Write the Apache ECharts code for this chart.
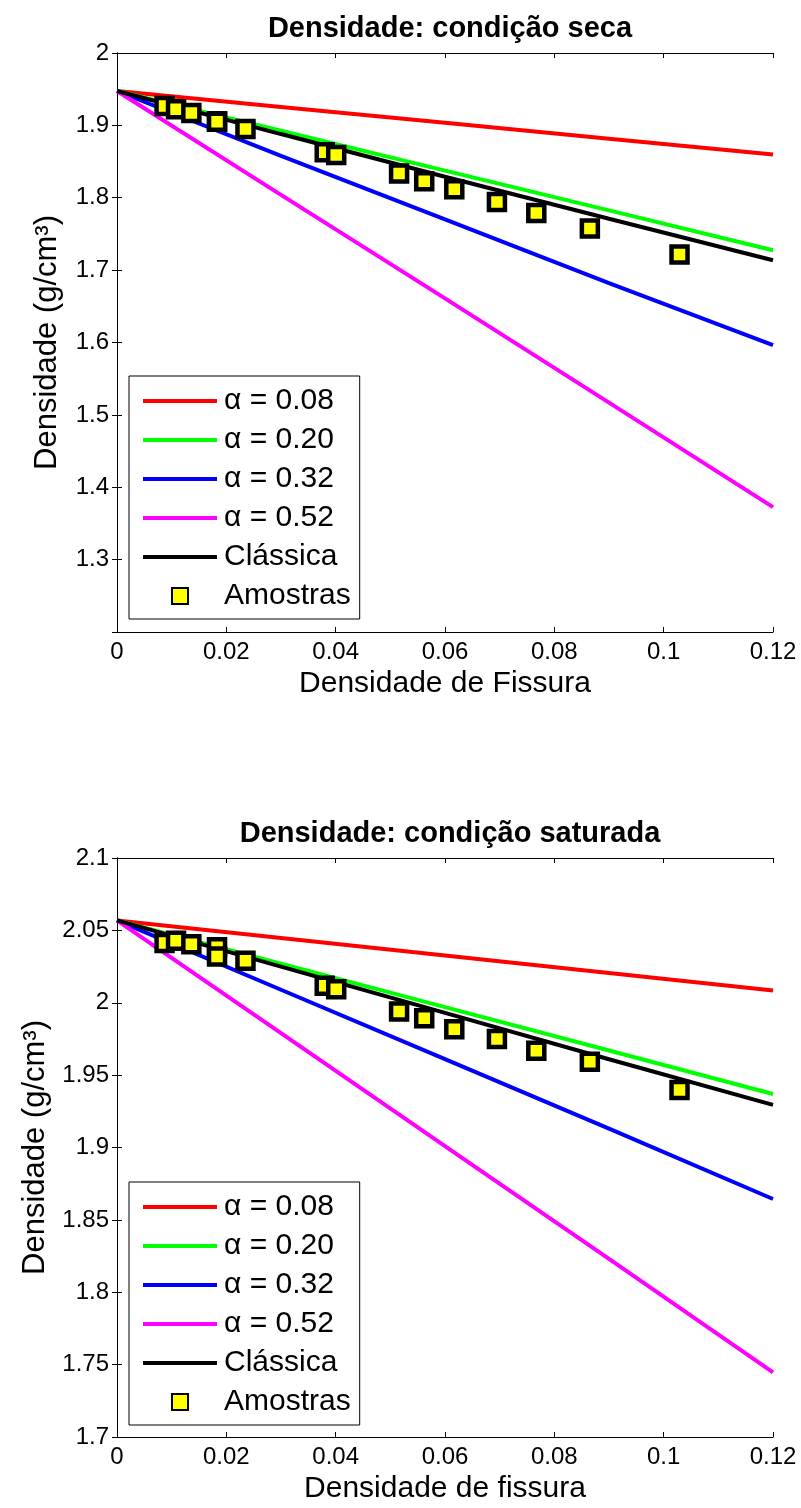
<!DOCTYPE html>
<html>
<head>
<meta charset="utf-8">
<script src="https://cdn.jsdelivr.net/npm/echarts@6/dist/echarts.min.js"></script>
<style>
  html, body { margin: 0; padding: 0; background: #fff; }
  #chart { width: 801px; height: 1508px; }
</style>
</head>
<body>
<div id="chart"></div>
<script>
  // crack density where model curves were read
  const crackX = [0, 0.03, 0.06, 0.09, 0.12];

  // dry condition
  const secaA008 = [1.9475, 1.9255, 1.9035, 1.8815, 1.8597];
  const secaA020 = [1.9475, 1.8925, 1.8375, 1.7825, 1.7275];
  const secaA032 = [1.9475, 1.8580, 1.7700, 1.6820, 1.5963];
  const secaA052 = [1.9475, 1.8040, 1.6610, 1.5170, 1.3725];
  const secaClassica = [1.9475, 1.8880, 1.8290, 1.7710, 1.7137];

  // saturated condition
  const satA008 = [2.0569, 2.0448, 2.0327, 2.0205, 2.0084];
  const satA020 = [2.0569, 2.0270, 1.9970, 1.9670, 1.9370];
  const satA032 = [2.0569, 2.0090, 1.9610, 1.9130, 1.8644];
  const satA052 = [2.0569, 1.9790, 1.9010, 1.8230, 1.7447];
  const satClassica = [2.0569, 2.0250, 1.9930, 1.9610, 1.9294];

  // samples
  const amostrasX = [0.0087, 0.0108, 0.0136, 0.0183, 0.0183, 0.0235, 0.0380, 0.0401, 0.0516, 0.0562, 0.0617, 0.0695, 0.0767, 0.0865, 0.1029];
  const amostrasSeca = [1.9268, 1.9222, 1.9171, 1.9057, 1.9050, 1.8950, 1.8628, 1.8591, 1.8334, 1.8228, 1.8117, 1.7942, 1.7790, 1.7575, 1.7215];
  const amostrasSat = [2.0412, 2.0428, 2.0405, 2.0384, 2.0320, 2.0290, 2.0117, 2.0094, 1.9939, 1.9893, 1.9817, 1.9750, 1.9669, 1.9593, 1.9398];

  const seriesNames = ['α = 0.08', 'α = 0.20', 'α = 0.32', 'α = 0.52', 'Clássica', 'Amostras'];
  const lineColors = ['#ff0000', '#00ff00', '#0000ff', '#ff00ff', '#000000'];

  const xRange = [0, 0.12, 0.02];
  const ySecaRange = [1.2, 2, 0.1];
  const ySatRange = [1.7, 2.1, 0.05];

  const titles = ['Densidade: condição seca', 'Densidade: condição saturada'];
  const xNames = ['Densidade de Fissura', 'Densidade de fissura'];
  const yName = 'Densidade (g/cm³)';

  const font = '"Liberation Sans", Arial, sans-serif';
  const gridTops = [53, 858];
  const plotH = 579;

  const chart = echarts.init(document.getElementById('chart'));

  function mainX(gi) {
    return {
      type: 'value', gridIndex: gi, position: 'bottom',
      min: xRange[0], max: xRange[1], interval: xRange[2],
      name: xNames[gi], nameLocation: 'middle', nameGap: 37,
      nameTextStyle: { fontSize: 30, color: '#000', fontFamily: font },
      axisLine: { lineStyle: { color: '#000', width: 1 } },
      axisTick: { inside: true, length: 5, lineStyle: { color: '#000' } },
      axisLabel: { fontSize: 24, color: '#000', fontFamily: font, margin: 8 },
      splitLine: { show: false }
    };
  }
  function topX(gi) {
    return {
      type: 'value', gridIndex: gi, position: 'top',
      min: xRange[0], max: xRange[1], interval: xRange[2],
      axisLine: { lineStyle: { color: '#000', width: 1 } },
      axisTick: { inside: true, length: 5, lineStyle: { color: '#000' } },
      axisLabel: { show: false },
      splitLine: { show: false }
    };
  }
  function mainY(gi, r, hideMin) {
    return {
      type: 'value', gridIndex: gi, position: 'left',
      min: r[0], max: r[1], interval: r[2],
      name: yName, nameLocation: 'middle', nameGap: 54,
      nameTextStyle: { fontSize: 31, color: '#000', fontFamily: font },
      axisLine: { show: true, lineStyle: { color: '#000', width: 1 } },
      axisTick: { show: true, inside: true, length: 5, lineStyle: { color: '#000' } },
      axisLabel: { fontSize: 24, color: '#000', fontFamily: font, margin: 8, showMinLabel: !hideMin },
      splitLine: { show: false }
    };
  }
  function rightY(gi, r) {
    return {
      type: 'value', gridIndex: gi, position: 'right',
      min: r[0], max: r[1], interval: r[2],
      axisLine: { show: true, lineStyle: { color: '#000', width: 1 } },
      axisTick: { show: true, inside: true, length: 5, lineStyle: { color: '#000' } },
      axisLabel: { show: false },
      splitLine: { show: false }
    };
  }

  function buildSeries(gi, curves, samplesY) {
    const out = curves.map((c, i) => ({
      name: seriesNames[i],
      type: 'line',
      xAxisIndex: gi * 2, yAxisIndex: gi * 2,
      data: crackX.map((x, k) => [x, c[k]]),
      symbol: 'none',
      lineStyle: { color: lineColors[i], width: 4 },
      itemStyle: { color: lineColors[i] },
      z: 2 + i,
      silent: true
    }));
    out.push({
      name: seriesNames[5],
      type: 'scatter',
      xAxisIndex: gi * 2, yAxisIndex: gi * 2,
      data: amostrasX.map((x, k) => [x, samplesY[k]]),
      symbol: 'rect',
      symbolSize: 16,
      itemStyle: { color: '#ffff00', borderColor: '#000', borderWidth: 4.5, opacity: 1 },
      z: 10
    });
    return out;
  }

  function buildLegend(gi) {
    return {
      orient: 'vertical',
      left: 129,
      top: gi === 0 ? 376 : 1182,
      data: seriesNames.map(n => n === 'Amostras'
        ? { name: n, icon: 'path://M0 0H10V10H0Z' }
        : { name: n, icon: 'path://M0 0H74V4H0Z' }),
      itemWidth: 74,
      itemHeight: 16,
      itemGap: 9,
      padding: [10, 9, 8, 14],
      borderColor: '#000',
      borderWidth: 1,
      backgroundColor: '#fff',
      selectedMode: false,
      textStyle: { fontSize: 30, lineHeight: 30, color: '#000', fontFamily: font, padding: [0, 0, 0, 2] }
    };
  }

  const option = {
    backgroundColor: '#fff',
    animation: false,
    title: titles.map((t, gi) => ({
      text: t,
      left: 445,
      textAlign: 'center',
      top: gi === 0 ? 9 : 814,
      textStyle: { fontSize: 29, fontWeight: 'bold', color: '#000', fontFamily: font }
    })),
    grid: gridTops.map(t => ({ left: 117, top: t, width: 656, height: plotH, containLabel: false })),
    xAxis: [mainX(0), topX(0), mainX(1), topX(1)],
    yAxis: [mainY(0, ySecaRange, true), rightY(0, ySecaRange), mainY(1, ySatRange, false), rightY(1, ySatRange)],
    legend: [buildLegend(0), buildLegend(1)],
    series: [
      ...buildSeries(0, [secaA008, secaA020, secaA032, secaA052, secaClassica], amostrasSeca),
      ...buildSeries(1, [satA008, satA020, satA032, satA052, satClassica], amostrasSat)
    ]
  };

  chart.setOption(option);
</script>
</body>
</html>
